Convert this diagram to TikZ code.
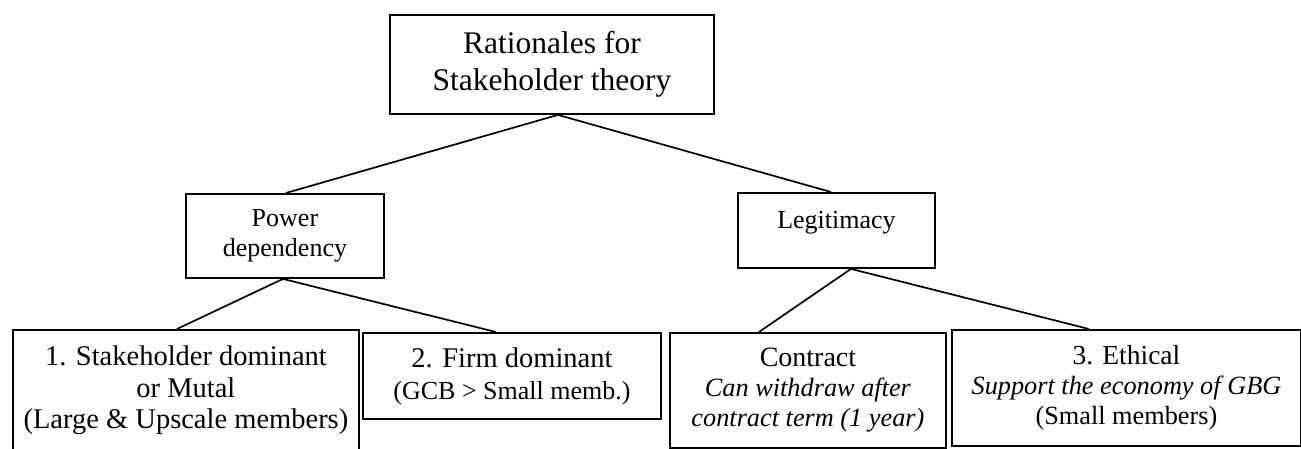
\documentclass[tikz,border=0pt]{standalone}
\usepackage{fontspec}
\setmainfont{Liberation Serif}
\begin{document}
\begin{tikzpicture}[x=1pt,y=1pt,
  box/.style={draw, line width=1.9pt, inner sep=0pt, align=center, anchor=north west},
  link/.style={line width=1.7pt}]
\useasboundingbox (0,0) rectangle (1301,448);

% top level
\node[box, minimum width=324pt, minimum height=99pt,
      font=\fontsize{31.5}{37}\selectfont] (root) at (389,434)
  {Rationales for\\Stakeholder theory};

% second level
\node[box, minimum width=198pt, minimum height=84pt,
      font=\fontsize{26}{30}\selectfont] (power) at (185,255)
  {Power\\dependency};
\node[box, minimum width=197pt, minimum height=75pt, text depth=22pt,
      font=\fontsize{26}{30}\selectfont] (legit) at (737,256)
  {Legitimacy};

% third level
\node[box, minimum width=346pt, minimum height=121pt,
      font=\fontsize{28.5}{31.5}\selectfont] (stake) at (12,119)
  {1. Stakeholder dominant\\or Mutal\\(Large \& Upscale members)};
\node[box, minimum width=298pt, minimum height=86pt,
      font=\fontsize{26}{32}\selectfont] (firm) at (362,116)
  {\fontsize{28.5}{32}\selectfont 2. Firm dominant\\(GCB > Small memb.)};
\node[box, minimum width=276pt, minimum height=115pt,
      font=\fontsize{26.3}{30}\selectfont] (contract) at (669,116)
  {\fontsize{28}{30}\selectfont Contract\\\textit{Can withdraw after}\\\textit{contract term (1 year)}};
\node[box, minimum width=349pt, minimum height=116pt,
      font=\fontsize{26.3}{30}\selectfont] (ethic) at (951,119)
  {\fontsize{27.5}{30}\selectfont 3. Ethical\\\textit{Support the economy of GBG}\\(Small members)};

% connectors
\draw[link] ([xshift=6pt]root.south) -- ([xshift=1pt]power.north);
\draw[link] ([xshift=6pt]root.south) -- ([xshift=-5.5pt]legit.north);
\draw[link] ([xshift=-2pt]power.south) -- ([xshift=-9pt]stake.north);
\draw[link] ([xshift=-2pt]power.south) -- ([xshift=-16pt]firm.north);
\draw[link] ([xshift=14.5pt]legit.south) -- ([xshift=-49pt]contract.north);
\draw[link] ([xshift=14.5pt]legit.south) -- ([xshift=-37.5pt]ethic.north);
\end{tikzpicture}
\end{document}
